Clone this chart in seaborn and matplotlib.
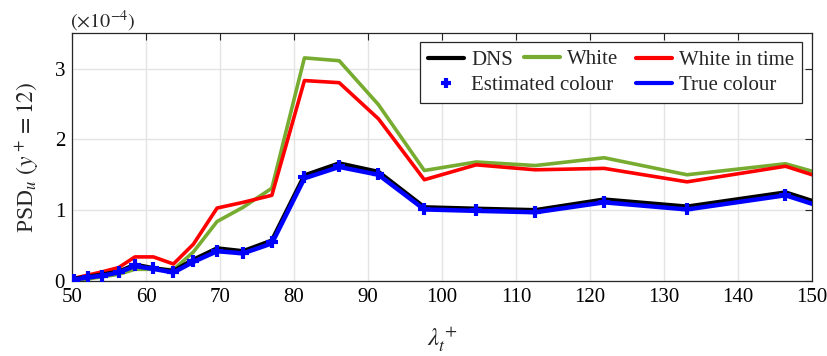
import numpy as np
import pandas as pd
import matplotlib
matplotlib.use("Agg")
import matplotlib.pyplot as plt
import seaborn as sns
from matplotlib.lines import Line2D

# x positions (lambda_t^+)
lam = [50.2, 52.2, 54.1, 56.3, 58.5, 61.0, 63.7, 66.4, 69.6, 73.1, 77.0,
       81.4, 86.1, 91.4, 97.6, 104.6, 112.6, 121.9, 133.1, 146.4, 150.0]
# values in units of 1e-4
dns = [0.03, 0.06, 0.09, 0.13, 0.23, 0.18, 0.14, 0.30, 0.46, 0.42, 0.57,
       1.49, 1.66, 1.54, 1.04, 1.02, 1.00, 1.15, 1.05, 1.25, 1.13]
white = [0.00, 0.03, 0.06, 0.095, 0.165, 0.165, 0.16, 0.41, 0.84, 1.04, 1.31,
         3.15, 3.11, 2.49, 1.56, 1.68, 1.63, 1.74, 1.50, 1.655, 1.55]
white_time = [0.035, 0.085, 0.13, 0.19, 0.34, 0.34, 0.24, 0.52, 1.03, 1.11, 1.21,
              2.83, 2.80, 2.29, 1.43, 1.64, 1.57, 1.59, 1.40, 1.62, 1.50]
true_col = [0.02, 0.05, 0.075, 0.12, 0.21, 0.17, 0.12, 0.27, 0.42, 0.39, 0.53,
            1.45, 1.61, 1.50, 1.01, 0.99, 0.97, 1.11, 1.01, 1.21, 1.09]
# estimated colour markers (no marker at the clipped end)
lam_est = lam[:-1]
est_col = [0.02, 0.05, 0.075, 0.12, 0.23, 0.18, 0.12, 0.28, 0.43, 0.40, 0.55,
           1.47, 1.63, 1.51, 1.02, 1.00, 0.98, 1.12, 1.02, 1.21]

xticks = [50, 60, 70, 80, 90, 100, 110, 120, 130, 140, 150]
yticks = [0, 1, 2, 3]

sns.set_style("white")
plt.rcParams['font.family'] = ['Liberation Serif', 'DejaVu Serif']
plt.rcParams['mathtext.fontset'] = 'stix'

GREEN = '#77AC30'
RED = '#FF0000'
BLUE = '#0000FF'

fig = plt.figure(figsize=(8.27, 3.56), dpi=100)
ax = fig.add_axes([0.0871, 0.2107, 0.8949, 0.6963])

lw = 2.6
sns.lineplot(x=lam, y=white, ax=ax, color=GREEN, lw=lw, zorder=2)
sns.lineplot(x=lam, y=white_time, ax=ax, color=RED, lw=lw, zorder=2)
sns.lineplot(x=lam, y=dns, ax=ax, color='black', lw=lw + 0.6, zorder=3)
sns.lineplot(x=lam, y=true_col, ax=ax, color=BLUE, lw=lw + 0.6, zorder=4)
sns.lineplot(x=lam_est, y=est_col, ax=ax, color=BLUE, linestyle='',
             marker='+', markersize=9, markeredgewidth=3,
             markeredgecolor=BLUE, zorder=5)

ax.set_xlim(50, 150)
ax.set_ylim(0, 3.5)
ax.set_xticks(xticks)
ax.set_yticks(yticks)
ax.set_xticklabels([str(v) for v in xticks])
ax.set_yticklabels([str(v) for v in yticks])
ax.grid(True, color='#e4e4e4', lw=1.0)
ax.set_axisbelow(True)
ax.tick_params(direction='in', length=5, width=0.8, top=True, right=True,
               labelsize=15, colors='#262626', pad=5)
ax.tick_params(labelcolor='black')
for s in ax.spines.values():
    s.set_color('#262626')
    s.set_linewidth(0.9)

ax.set_xlabel(r'$\lambda_t^+$', fontsize=18, labelpad=12)
ax.set_ylabel(r'PSD$_u$ $(y^+ = 12)$', fontsize=17, labelpad=10)
fig.text(0.0846, 0.975, r'$(\times 10^{-4})$', fontsize=14.5, ha='left', va='top')

FS = 15
h_dns = Line2D([], [], color='black', lw=3)
h_est = Line2D([], [], color=BLUE, linestyle='', marker='+', markersize=7, markeredgewidth=3)
h_wht = Line2D([], [], color=GREEN, lw=3)
h_wit = Line2D([], [], color=RED, lw=3)
h_tru = Line2D([], [], color=BLUE, lw=3)

leg1 = ax.legend([h_dns, h_est, h_wit, h_tru],
                 ['DNS', 'Estimated colour', 'White in time', 'True colour'],
                 ncol=2, loc='upper right',
                 bbox_to_anchor=(802.3 / 827, 1 - 42.3 / 356),
                 bbox_transform=fig.transFigure,
                 fontsize=FS, frameon=True, fancybox=False, framealpha=1,
                 edgecolor='#262626', handlelength=1.7, handletextpad=0.35,
                 columnspacing=1.1, labelspacing=0.25, borderpad=0.4,
                 borderaxespad=0.0)
leg1.get_frame().set_linewidth(0.9)
ax.add_artist(leg1)

fig.canvas.draw()
r = fig.canvas.get_renderer()
tb = leg1.get_texts()[0].get_window_extent(r)

leg2 = ax.legend([h_wht], ['White'], loc='upper left',
                 bbox_to_anchor=(524.3 / 827, (tb.y1 + 2.0) / fig.bbox.height),
                 bbox_transform=fig.transFigure,
                 fontsize=FS, frameon=False, handlelength=1.7, handletextpad=0.35,
                 borderpad=0.0, borderaxespad=0.0)
leg2.set_zorder(leg1.get_zorder() + 1)

fig.savefig('out.png', dpi=100)
